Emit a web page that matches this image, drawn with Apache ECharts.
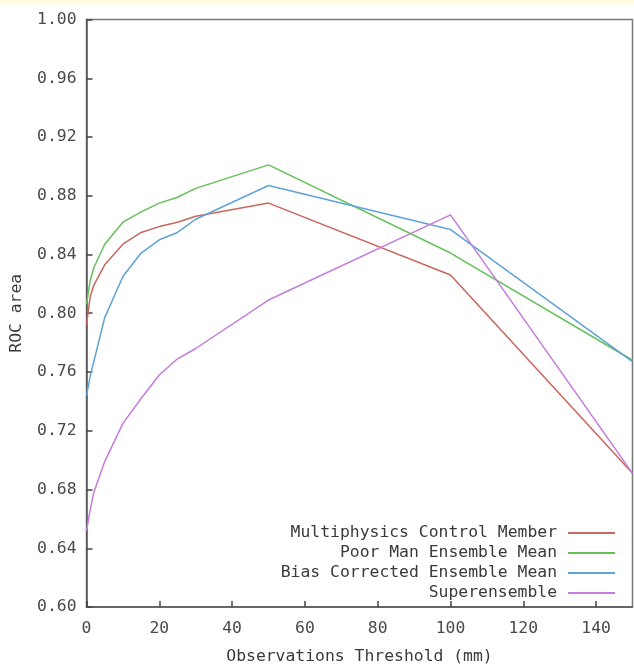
<!DOCTYPE html>
<html>
<head>
<meta charset="utf-8">
<title>ROC area vs observations threshold</title>
<script src="https://cdn.jsdelivr.net/npm/echarts@6/dist/echarts.min.js"></script>
<style>
  html, body { margin: 0; padding: 0; background: #ffffff; }
  #chart { width: 634px; height: 666px; }
</style>
</head>
<body>
<div id="chart"></div>
<script>
// Observation thresholds (mm) at which the ROC area was evaluated
const thresholds = [0, 1, 2, 5, 10, 15, 20, 25, 30, 50, 100, 150];

// ROC area per forecast system
const controlMember  = [0.792, 0.811, 0.819, 0.833, 0.847, 0.855, 0.859, 0.862, 0.866, 0.875, 0.826, 0.691];
const poorManMean    = [0.806, 0.822, 0.831, 0.847, 0.862, 0.869, 0.875, 0.879, 0.885, 0.901, 0.841, 0.768];
const biasCorrMean   = [0.744, 0.757, 0.767, 0.797, 0.825, 0.841, 0.850, 0.855, 0.864, 0.887, 0.857, 0.767];
const superensemble  = [0.652, 0.666, 0.678, 0.699, 0.725, 0.742, 0.758, 0.769, 0.776, 0.809, 0.867, 0.691];

const seriesNames = [
  'Multiphysics Control Member',
  'Poor Man Ensemble Mean',
  'Bias Corrected Ensemble Mean',
  'Superensemble'
];
const seriesValues = [controlMember, poorManMean, biasCorrMean, superensemble];
const seriesColors = ['#c8675c', '#66c05a', '#5ea3d6', '#c57ade'];

const FONT = '"DejaVu Sans Mono", "Liberation Mono", monospace';
const FONT_SIZE = 16.4;

const chart = echarts.init(document.getElementById('chart'), null, { renderer: 'canvas' });

const series = seriesNames.map((name, i) => ({
  name: name,
  type: 'line',
  data: thresholds.map((t, k) => [t, seriesValues[i][k]]),
  symbol: 'none',
  smooth: false,
  lineStyle: { color: seriesColors[i], width: 1.5 },
  itemStyle: { color: seriesColors[i] },
  z: 3
}));

chart.setOption({
  animation: false,
  backgroundColor: '#ffffff',
  graphic: [{
    type: 'rect',
    left: 0, top: 0,
    shape: { width: 634, height: 5 },
    style: { fill: '#fffbe6' },
    silent: true
  }],
  grid: {
    left: 86.5,
    right: 1.5,
    top: 19.5,
    bottom: 59,
    containLabel: false,
    outerBoundsMode: 'none',
    show: true,
    borderColor: '#7a7a7a',
    borderWidth: 1.5,
    backgroundColor: 'transparent'
  },
  legend: {
    orient: 'vertical',
    right: 14,
    bottom: 60,
    align: 'right',
    icon: 'rect',
    itemWidth: 47,
    itemHeight: 2,
    itemGap: 4,
    selectedMode: false,
    textStyle: {
      fontFamily: FONT,
      fontSize: FONT_SIZE,
      lineHeight: 16,
      color: '#3a3a3a',
      padding: [0, 6, 0, 0]
    },
    data: seriesNames
  },
  xAxis: {
    type: 'value',
    min: 0,
    max: 150,
    interval: 20,
    name: 'Observations Threshold (mm)',
    nameLocation: 'middle',
    nameGap: 42,
    nameTextStyle: { fontFamily: FONT, fontSize: FONT_SIZE, color: '#3a3a3a' },
    axisLine: { show: true, lineStyle: { color: '#555555', width: 1.5 } },
    axisTick: { show: true, inside: true, length: 6, lineStyle: { color: '#444444', width: 1.5 } },
    axisLabel: {
      fontFamily: FONT, fontSize: FONT_SIZE, color: '#4a4a4a',
      margin: 14,
      showMaxLabel: false
    },
    splitLine: { show: false }
  },
  yAxis: {
    type: 'value',
    min: 0.60,
    max: 1.00,
    interval: 0.04,
    name: 'ROC area',
    nameLocation: 'middle',
    nameGap: 62,
    nameRotate: 90,
    nameTextStyle: { fontFamily: FONT, fontSize: FONT_SIZE, color: '#3a3a3a' },
    axisLine: { show: true, lineStyle: { color: '#555555', width: 1.5 } },
    axisTick: { show: true, inside: true, length: 6, lineStyle: { color: '#444444', width: 1.5 } },
    axisLabel: {
      fontFamily: FONT, fontSize: FONT_SIZE, color: '#4a4a4a',
      margin: 10,
      formatter: v => v.toFixed(2)
    },
    splitLine: { show: false }
  },
  series: series
});
</script>
</body>
</html>
